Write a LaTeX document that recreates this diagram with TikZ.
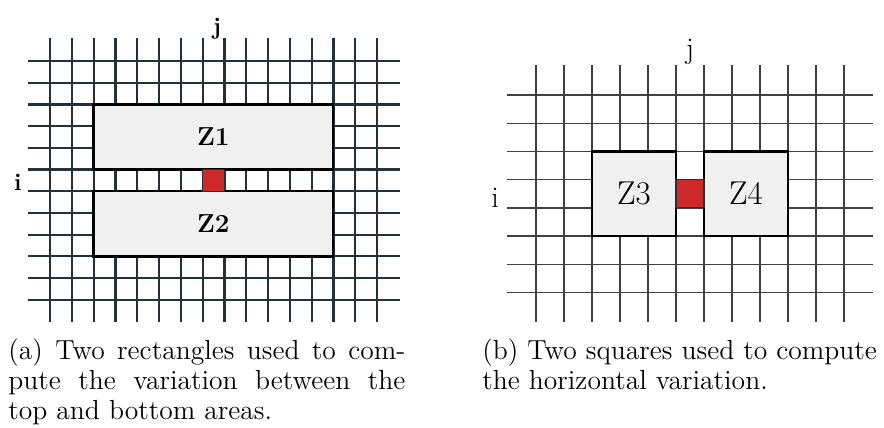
\documentclass[tikz,border=0pt]{standalone}
\usepackage{xcolor}
\usepackage{tikz}
\definecolor{gridink}{RGB}{35,50,56}
\definecolor{cellred}{RGB}{205,40,42}
\definecolor{zonefill}{RGB}{240,240,240}
\tikzstyle{gridA}   = [line width=1.1pt, draw=gridink]
\tikzstyle{gridB}   = [line width=0.7pt, draw=black!75]
\tikzstyle{zone}    = [rectangle, draw=black, line width=1.2pt, fill=zonefill, inner sep=0pt, text centered]
\tikzstyle{cell}    = [rectangle, draw=gridink, line width=0.6pt, fill=cellred, inner sep=0pt]
\tikzstyle{lblA}    = [inner sep=0pt, font=\fontsize{12}{14}\selectfont\bfseries]
\tikzstyle{lblB}    = [inner sep=0pt, font=\fontsize{15}{17}\selectfont]
\tikzstyle{caption} = [anchor=north west, inner sep=0pt, font=\fontsize{13.8}{15}\selectfont]

\begin{document}
\begin{tikzpicture}[x=0.5pt, y=-0.5pt]
    \useasboundingbox (0,0) rectangle (884,428);

    % (a) grid
    \foreach \k in {0,...,15}
        \draw [gridA] ({50+21.8*\k},38) -- ({50+21.8*\k},322);
    \foreach \k in {0,...,11}
        \draw [gridA] (28,{61+21.7*\k}) -- (400,{61+21.7*\k});

    \node (z1) at (213.3,137)    [zone, minimum width=119.7pt, minimum height=32.55pt, font=\fontsize{13}{15}\selectfont\bfseries, text depth=-2pt] {Z1};
    \node (z2) at (213.3,223.75) [zone, minimum width=119.7pt, minimum height=32.55pt, font=\fontsize{13}{15}\selectfont\bfseries, text depth=-2pt] {Z2};
    \node (pa) at (213.5,180.35) [cell, minimum width=10.9pt, minimum height=10.85pt] {};
    \node (ja) at (217,29)  [lblA] {j};
    \node (ia) at (18,182)  [lblA] {i};

    % (b) grid
    \foreach \k in {0,...,11}
        \draw [gridB] ({536+28*\k},65) -- ({536+28*\k},322);
    \foreach \k in {0,...,7}
        \draw [gridB] (507,{95+28.2*\k}) -- (873,{95+28.2*\k});

    \node (z3) at (634,193.7) [zone, minimum width=42pt, minimum height=42.3pt, font=\fontsize{16.5}{18}\selectfont] {Z3};
    \node (z4) at (746,193.7) [zone, minimum width=42pt, minimum height=42.3pt, font=\fontsize{16.5}{18}\selectfont] {Z4};
    \node (pb) at (690,193.7) [cell, minimum width=14pt, minimum height=14.1pt] {};
    \node (jb) at (690,52)  [lblB] {j};
    \node (ib) at (495,198) [lblB] {i};

    % captions
    \node (ca) at (8,338)   [caption, text width=198.5pt, align=justify]
        {(a) Two rectangles used to com-\linebreak pute the variation between the\linebreak top and bottom areas.};
    \node (cb) at (482,338) [caption, align=left]
        {(b) Two squares used to compute\\the horizontal variation.};
\end{tikzpicture}
\end{document}
